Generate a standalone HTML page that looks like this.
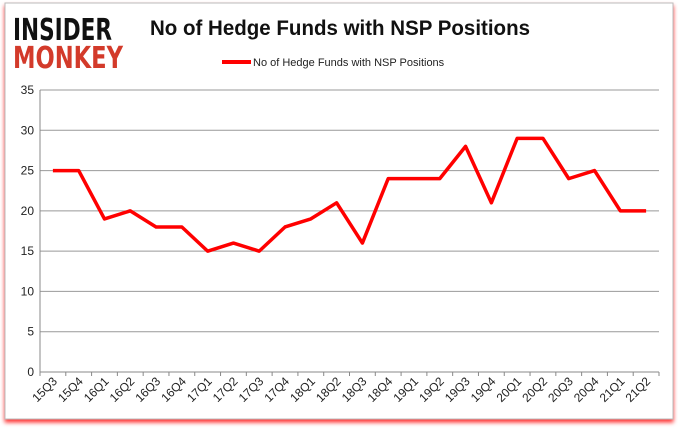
<!DOCTYPE html>
<html><head><meta charset="utf-8"><style>
body{margin:0;background:#fff;width:678px;height:431px;overflow:hidden;font-family:"Liberation Sans",sans-serif}
</style></head><body>
<svg width="678" height="431">
<defs><filter id="sh" x="-5%" y="-5%" width="110%" height="115%"><feDropShadow dx="0" dy="3" stdDeviation="2" flood-color="#f00" flood-opacity="0.8"/></filter></defs>
<rect x="5" y="3" width="668" height="416" fill="#fff" stroke="#bbb" filter="url(#sh)"/>
<text x="13" y="40" font-size="30" font-weight="bold" fill="#111" font-family="'DejaVu Sans',sans-serif" textLength="99" lengthAdjust="spacingAndGlyphs">INSIDER</text>
<text x="13" y="68" font-size="30" font-weight="bold" fill="#d33a2a" font-family="'DejaVu Sans',sans-serif" textLength="110" lengthAdjust="spacingAndGlyphs">MONKEY</text>
<text x="150" y="35" font-size="21" font-weight="bold" fill="#111" textLength="380" lengthAdjust="spacingAndGlyphs">No of Hedge Funds with NSP Positions</text>
<line x1="222" y1="62" x2="251" y2="62" stroke="#f00" stroke-width="4"/>
<text x="253" y="66" font-size="11" fill="#222">No of Hedge Funds with NSP Positions</text>
<g id="g"></g>
</svg>
<script>
const categories=["15Q3","15Q4","16Q1","16Q2","16Q3","16Q4","17Q1","17Q2","17Q3","17Q4","18Q1","18Q2","18Q3","18Q4","19Q1","19Q2","19Q3","19Q4","20Q1","20Q2","20Q3","20Q4","21Q1","21Q2"];
const values=[25,25,19,20,18,18,15,16,15,18,19,21,16,24,24,24,28,21,29,29,24,25,20,20];
const yTicks=[0,5,10,15,20,25,30,35];
const NS="http://www.w3.org/2000/svg",g=document.getElementById('g');
const L=40,R=659,T=90,B=372,bw=(R-L)/categories.length;
const x=i=>L+bw*(i+0.5), y=v=>B-(v/35)*(B-T);
function el(t,a){const e=document.createElementNS(NS,t);for(const k in a)e.setAttribute(k,a[k]);g.appendChild(e);return e;}
yTicks.forEach(t=>{
 const ln=el('line',{x1:L,x2:R,y1:y(t),y2:y(t),stroke:t===0?'#888':'#999','stroke-width':1});
 
 
 const tx=el('text',{x:L-6,y:y(t)+4,'font-size':12,'text-anchor':'end',fill:'#222'});tx.textContent=t;
 
 
});
const ax=el('line',{x1:L,x2:L,y1:T,y2:B+4,stroke:'#888'});


categories.forEach((c,i)=>{
 const tk=el('line',{x1:L+bw*(i+1),x2:L+bw*(i+1),y1:B,y2:B+4,stroke:'#888'});
 
 
 const tx=el('text',{'font-size':12,'text-anchor':'end',fill:'#222',transform:`translate(${x(i)+5},${B+10}) rotate(-45)`});tx.textContent=c;
 
 
});
const p=el('polyline',{points:values.map((v,i)=>x(i)+','+y(v)).join(' '),fill:'none',stroke:'#f00','stroke-width':3.5,'stroke-linejoin':'round'});


</script>
</body></html>
